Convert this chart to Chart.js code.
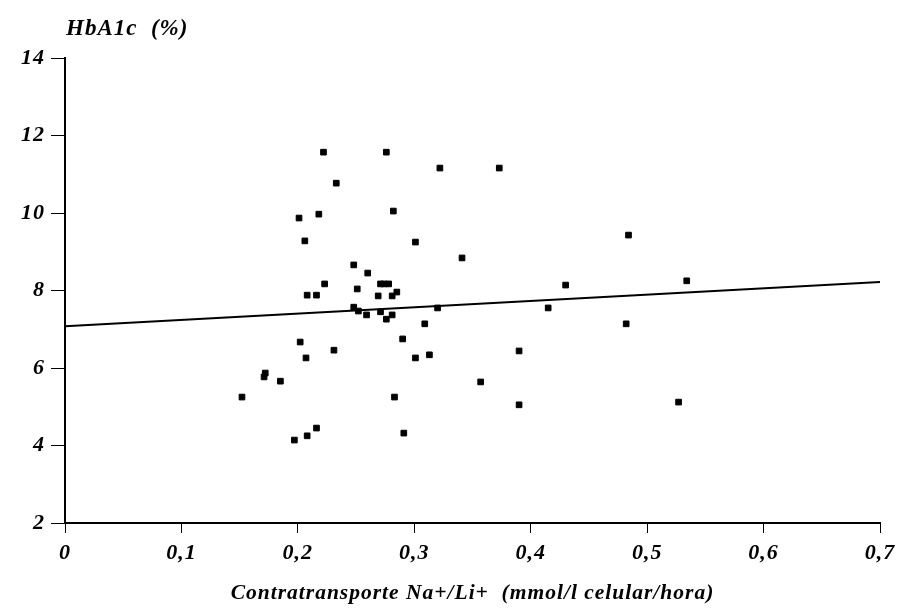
<!DOCTYPE html>
<html>
<head>
<meta charset="utf-8">
<script src="https://cdn.jsdelivr.net/npm/chart.js@4"></script>
<style>
  html, body { margin: 0; padding: 0; background: #fff; }
  #grafico { display: block; }
</style>
</head>
<body>
<canvas id="grafico" width="902" height="610"></canvas>
<script>
// Datos (contratransporte Na+/Li+ vs HbA1c)
const contratransporte = [
  0.152, 0.172, 0.171, 0.185, 0.197, 0.208, 0.216, 0.201, 0.206, 0.218,
  0.222, 0.233, 0.202, 0.207, 0.208, 0.216, 0.223, 0.231, 0.248, 0.251,
  0.260, 0.248, 0.252, 0.259, 0.271, 0.274, 0.278, 0.269, 0.271, 0.276,
  0.281, 0.285, 0.281, 0.276, 0.282, 0.290, 0.283, 0.291, 0.301, 0.301,
  0.309, 0.313, 0.322, 0.320, 0.341, 0.357, 0.373, 0.390, 0.390, 0.415,
  0.430, 0.484, 0.482, 0.527, 0.534
];
const hba1c = [
  5.25, 5.87, 5.77, 5.66, 4.14, 4.25, 4.45, 9.87, 9.28, 9.97,
  11.57, 10.77, 6.67, 6.26, 7.88, 7.88, 8.17, 6.46, 8.66, 8.04,
  8.45, 7.57, 7.47, 7.37, 8.17, 8.17, 8.17, 7.86, 7.45, 7.26,
  7.86, 7.96, 7.37, 11.57, 10.05, 6.75, 5.25, 4.32, 9.25, 6.26,
  7.14, 6.34, 11.16, 7.55, 8.84, 5.64, 11.16, 6.44, 5.05, 7.55,
  8.14, 9.43, 7.14, 5.12, 8.25
];

// recta de regresion (extremos leidos)
const rectaX = [0, 0.7];
const rectaY = [7.08, 8.22];

const ticksX = ['0', '0,1', '0,2', '0,3', '0,4', '0,5', '0,6', '0,7'];
const ticksY = ['2', '4', '6', '8', '10', '12', '14'];
const tituloX = 'Contratransporte Na+/Li+  (mmol/l celular/hora)';
const tituloY = 'HbA1c  (%)';

const puntos = contratransporte.map((x, i) => ({x: x, y: hba1c[i]}));
const recta = rectaX.map((x, i) => ({x: x, y: rectaY[i]}));

const fuenteTicks = {family: 'Liberation Serif', size: 22, style: 'italic', weight: 'bold'};
const fuenteTitulo = {family: 'Liberation Serif', size: 21.5, style: 'italic', weight: 'bold'};

// letras algo separadas como en el original + titulo del eje Y arriba
const tituloArriba = {
    id: 'tituloArriba',
    beforeDraw(chart) {
        chart.ctx.letterSpacing = '1px';
    },
    afterDraw(chart) {
        const ctx = chart.ctx;
        ctx.save();
        ctx.font = 'italic bold 23px "Liberation Serif"';
        ctx.fillStyle = '#000';
        ctx.textBaseline = 'alphabetic';
        ctx.fillText(tituloY, 66, 35);
        ctx.restore();
    }
};

new Chart(document.getElementById('grafico'), {
    type: 'scatter',
    data: {
        datasets: [
            {
                type: 'line',
                data: recta,
                borderColor: '#000',
                borderWidth: 2,
                pointRadius: 0,
                fill: false,
                order: 1
            },
            {
                data: puntos,
                pointStyle: 'rect',
                pointRadius: 4,
                backgroundColor: '#000',
                borderColor: '#000',
                borderWidth: 1,
                order: 0
            }
        ]
    },
    options: {
        responsive: false,
        animation: false,
        layout: {padding: {top: 58, right: 22, left: 0, bottom: 0}},
        plugins: {legend: {display: false}, tooltip: {enabled: false}},
        scales: {
            x: {
                type: 'linear',
                min: 0,
                max: 0.7,
                afterFit: (s) => { s.height = 87; },
                ticks: {stepSize: 0.1, callback: (v, i) => ticksX[i], font: fuenteTicks, color: '#000', padding: 7, maxRotation: 0},
                grid: {drawOnChartArea: false, tickLength: 10, color: '#000', lineWidth: 1},
                border: {color: '#000', width: 2},
                title: {display: true, text: tituloX, font: fuenteTitulo, color: '#000', padding: {top: 0, bottom: 4}}
            },
            y: {
                min: 2,
                max: 14,
                afterFit: (s) => { s.width = 65; },
                ticks: {stepSize: 2, callback: (v, i) => ticksY[i], font: fuenteTicks, color: '#000', padding: 6},
                grid: {drawOnChartArea: false, tickLength: 14, color: '#000', lineWidth: 1},
                border: {color: '#000', width: 2}
            }
        }
    },
    plugins: [tituloArriba]
});
</script>
</body>
</html>
